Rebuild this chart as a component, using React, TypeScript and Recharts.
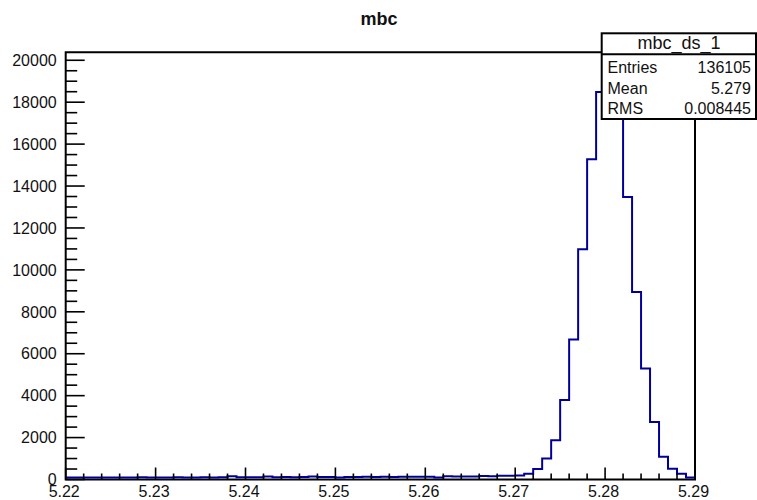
import React from 'react';
import { ComposedChart, Line, XAxis, YAxis, ReferenceArea } from 'recharts';

// histogram of mbc, 70 bins of 0.001 from 5.22 to 5.29
const binLow = 5.22;
const binHigh = 5.29;
const counts = [
    95, 90, 95, 100, 95, 100, 95, 100, 105, 100,
    95, 100, 105, 100, 100, 105, 100, 110, 150, 110,
    105, 110, 140, 110, 115, 110, 115, 145, 120, 125,
    95, 120, 125, 130, 125, 130, 125, 130, 135, 130,
    135, 95, 150, 140, 145, 140, 165, 160, 175, 180,
    190, 270, 500, 1000, 1870, 3790, 6680, 10980, 15280, 18490,
    19400, 18200, 13480, 8950, 5300, 2740, 1090, 510, 280, 90,
];

const xMajorTicks = [5.22, 5.23, 5.24, 5.25, 5.26, 5.27, 5.28, 5.29];
const yMajorTicks = [0, 2000, 4000, 6000, 8000, 10000, 12000, 14000, 16000, 18000, 20000];
const yTop = 20380;

const title = 'mbc';
const statsName = 'mbc_ds_1';
const statsLabels = ['Entries', 'Mean', 'RMS'];
const statsValues = ['136105', '5.279', '0.008445'];

const binWidth = (binHigh - binLow) / counts.length;
const histData = counts.map((n, i) => ({ x: binLow + i * binWidth, n }));
histData.push({ x: binHigh, n: counts[counts.length - 1] });

// minor ticks: every 0.002 on x, every 500 on y
const xAllTicks: number[] = [];
for (let k = 5220; k <= 5290; k += 2) xAllTicks.push(k / 1000);
const yAllTicks: number[] = [];
for (let v = 0; v <= 20000; v += 500) yAllTicks.push(v);

const FONT = '"Liberation Sans", Arial, Helvetica, sans-serif';
const HIST_COLOR = '#000099';

const isMajor = (list: number[], v: number) => list.some(t => Math.abs(t - v) < 1e-7);

const XTick = ({ x, y, payload }: any) => {
    const v = payload.value;
    const major = isMajor(xMajorTicks, v);
    return (
        <g>
            <line x1={x} x2={x} y1={y} y2={y - (major ? 12 : 6)} stroke="#000" strokeWidth={1.6} />
            {major && (
                <text x={x - 1.5} y={y + 17.5} textAnchor="middle" fontSize={16} fontFamily={FONT} fill="#111">
                    {v.toFixed(2)}
                </text>
            )}
        </g>
    );
};

const YTick = ({ x, y, payload }: any) => {
    const v = payload.value;
    const major = isMajor(yMajorTicks, v);
    return (
        <g>
            <line x1={x} x2={x + (major ? 19 : 11.5)} y1={y} y2={y} stroke="#000" strokeWidth={1.6} />
            {major && (
                <text x={x - 9} y={y} dy="0.36em" textAnchor="end" fontSize={16} fontFamily={FONT} fill="#111">
                    {v}
                </text>
            )}
        </g>
    );
};

export default function App() {
    return (
        <div style={{ position: 'absolute', left: 0, top: 0, width: 757, height: 500, overflow: 'hidden', background: '#fff' }}>
            <ComposedChart width={757} height={500} data={histData} margin={{ top: 52.3, right: 62, left: 0, bottom: 0 }}>
                <XAxis
                    dataKey="x"
                    type="number"
                    domain={[binLow, binHigh]}
                    allowDataOverflow
                    ticks={xAllTicks}
                    interval={0}
                    height={20.5}
                    tickSize={0}
                    tickMargin={0}
                    axisLine={false}
                    tickLine={false}
                    tick={<XTick />}
                />
                <YAxis
                    type="number"
                    domain={[0, yTop]}
                    allowDataOverflow
                    ticks={yAllTicks}
                    interval={0}
                    width={65.7}
                    tickSize={0}
                    tickMargin={0}
                    axisLine={false}
                    tickLine={false}
                    tick={<YTick />}
                />
                <ReferenceArea x1={binLow} x2={binHigh} y1={0} y2={yTop} fill="none" stroke="#000" strokeWidth={2} />
                <Line
                    dataKey="n"
                    type="stepAfter"
                    stroke={HIST_COLOR}
                    strokeWidth={2}
                    dot={false}
                    activeDot={false}
                    isAnimationActive={false}
                />
            </ComposedChart>

            <svg width={757} height={500} style={{ position: 'absolute', left: 0, top: 0, pointerEvents: 'none' }}>
                <text x={379} y={25} textAnchor="middle" fontSize={18} fontWeight="bold" fontFamily={FONT} fill="#111">
                    {title}
                </text>
                <rect x={601.7} y={33.3} width={154.3} height={85.7} fill="#fff" stroke="#000" strokeWidth={2} />
                <line x1={601.7} x2={756} y1={54.3} y2={54.3} stroke="#000" strokeWidth={2} />
                <text x={679} y={49.3} textAnchor="middle" fontSize={18} fontFamily={FONT} fill="#111">
                    {statsName}
                </text>
                {statsLabels.map((label, i) => (
                    <g key={label}>
                        <text x={607.5} y={73 + i * 20.5} fontSize={16} fontFamily={FONT} fill="#111">{label}</text>
                        <text x={751} y={73 + i * 20.5} textAnchor="end" fontSize={16} fontFamily={FONT} fill="#111">
                            {statsValues[i]}
                        </text>
                    </g>
                ))}
            </svg>
        </div>
    );
}
